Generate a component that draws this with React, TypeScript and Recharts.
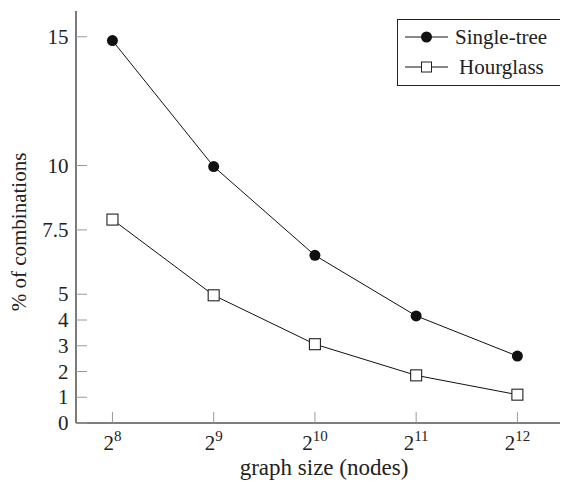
import React from 'react'
import { LineChart, Line, XAxis, YAxis, Legend, Label } from 'recharts'

const exponents = [8, 9, 10, 11, 12]
const singleTree = [14.85, 9.96, 6.51, 4.16, 2.6]
const hourglass = [7.9, 4.96, 3.06, 1.85, 1.1]
const yTicks = [0, 1, 2, 3, 4, 5, 7.5, 10, 15]

const data = exponents.map((e, i) => ({ exp: e, single: singleTree[i], hour: hourglass[i] }))

const FONT = 'Liberation Serif'
const TICK = '#9a9a9a'
const AXIS = '#333'

const LeftTick = (props: any) => {
  const { x, y, payload } = props
  return <g>
    <line x1={x} x2={x + 11} y1={y} y2={y} stroke={TICK} />
    <text x={x - 7.5} y={y + 7} textAnchor="end" fontSize={21} fontFamily={FONT} fill="#222">{payload.value}</text>
  </g>
}

const RightTick = (props: any) => {
  const { x, y } = props
  return <line x1={x} x2={x - 11} y1={y} y2={y} stroke={TICK} />
}

const BottomTick = (props: any) => {
  const { x, y, payload } = props
  return <g>
    <line x1={x} x2={x} y1={y} y2={y - 11} stroke={TICK} />
    <text x={x} y={y + 27} textAnchor="middle" fontFamily={FONT} fontSize={21} fill="#222">
      2<tspan fontSize={15} dy={-9}>{payload.value}</tspan>
    </text>
  </g>
}

const TopTick = (props: any) => {
  const { x, y } = props
  return <line x1={x} x2={x} y1={y} y2={y + 11} stroke={TICK} />
}

const CircleDot = (props: any) => {
  const { cx, cy } = props
  return <circle cx={cx} cy={cy} r={5.5} fill="#111" />
}

const SquareDot = (props: any) => {
  const { cx, cy } = props
  return <rect x={cx - 5.5} y={cy - 5.5} width={11} height={11} fill="#fff" stroke="#222" strokeWidth={1.1} />
}

const LegendBox = () => <div style={{ width: 165, height: 67, boxSizing: 'border-box', border: '1.3px solid #222', background: '#fff', fontFamily: FONT }}>
  <svg width={163} height={65} style={{ display: 'block' }}>
    <line x1={7} x2={50} y1={17} y2={17} stroke="#111" />
    <circle cx={28.5} cy={17} r={5.5} fill="#111" />
    <text x={57} y={24} fontSize={21} fontFamily={FONT} fill="#222">Single-tree</text>
    <line x1={7} x2={50} y1={47} y2={47} stroke="#111" />
    <rect x={23.5} y={42} width={10} height={10} fill="#fff" stroke="#222" />
    <text x={61} y={54} fontSize={21} fontFamily={FONT} fill="#222">Hourglass</text>
  </svg>
</div>

const App = () => {
  return <div style={{ margin: '-8px 0 0 -8px' }}>
    <LineChart width={568} height={482} data={data} margin={{ top: 11, right: 0, bottom: 0, left: 0 }}>
      <XAxis dataKey="exp" type="number" domain={[7.64, 12.5]} ticks={exponents} allowDataOverflow
        height={59} tickSize={0} tickMargin={0} tickLine={false} tick={<BottomTick />}
        axisLine={{ stroke: '#555', strokeWidth: 1.6 }}>
        <Label content={() => <text x={324} y={475} textAnchor="middle" fontSize={23} fontFamily={FONT} fill="#222">graph size (nodes)</text>} />
      </XAxis>
      <XAxis xAxisId="top" orientation="top" dataKey="exp" type="number" domain={[7.64, 12.5]} ticks={exponents}
        allowDataOverflow height={0} tickSize={0} tickMargin={0} tickLine={false} tick={<TopTick />}
        axisLine={{ stroke: AXIS, strokeWidth: 1.3 }} />
      <YAxis type="number" domain={[0, 16]} ticks={yTicks} width={76} tickSize={0} tickMargin={0}
        tickLine={false} tick={<LeftTick />} axisLine={{ stroke: AXIS, strokeWidth: 1.3 }} interval={0}>
        <Label content={() => <text x={26} y={232} transform="rotate(-90, 26, 232)" textAnchor="middle" fontSize={21} fontFamily={FONT} fill="#222">% of combinations</text>} />
      </YAxis>
      <YAxis yAxisId="right" orientation="right" type="number" domain={[0, 16]} ticks={yTicks} width={0}
        tickSize={0} tickMargin={0} tickLine={false} tick={<RightTick />} interval={0}
        axisLine={{ stroke: AXIS, strokeWidth: 1.3 }} />
      <Legend layout="vertical" align="center" verticalAlign="middle" content={<LegendBox />}
        wrapperStyle={{ position: 'absolute', left: 397, top: 19, width: 165, height: 67 }} />
      <Line dataKey="single" name="Single-tree" stroke="#111" strokeWidth={1} dot={<CircleDot />} isAnimationActive={false} />
      <Line dataKey="hour" name="Hourglass" stroke="#111" strokeWidth={1} dot={<SquareDot />} isAnimationActive={false} />
    </LineChart>
  </div>
}

export default App
